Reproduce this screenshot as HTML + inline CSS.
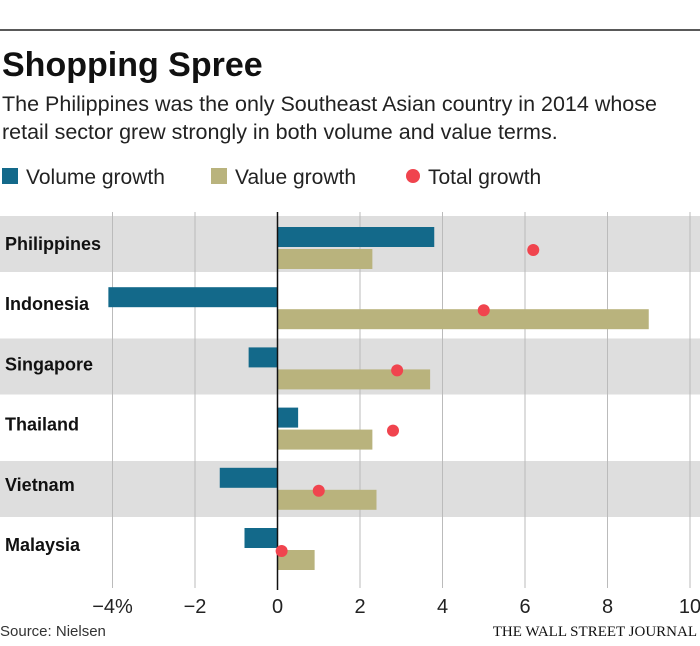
<!DOCTYPE html>
<html><head><meta charset="utf-8"><style>
body{margin:0;background:#fff;width:700px;height:641px;overflow:hidden;font-family:"Liberation Sans",sans-serif}
</style></head><body>
<svg width="700" height="641" xmlns="http://www.w3.org/2000/svg" font-family="Liberation Sans, sans-serif">
<line x1="0" y1="30" x2="700" y2="30" stroke="#222" stroke-width="1.5"/>
<text x="2" y="76" font-size="34" font-weight="bold" fill="#111">Shopping Spree</text>
<text x="2" y="111" font-size="21.5" fill="#222">The Philippines was the only Southeast Asian country in 2014 whose</text>
<text x="2" y="139" font-size="21.5" fill="#222">retail sector grew strongly in both volume and value terms.</text>
<g>
<rect x="2" y="168" width="16" height="16" fill="#13698a"/>
<text x="26" y="184" font-size="21" fill="#222">Volume growth</text>
<rect x="211" y="168" width="16" height="16" fill="#b9b37d"/>
<text x="235" y="184" font-size="21" fill="#222">Value growth</text>
<circle cx="413" cy="176" r="7" fill="#f0444e"/>
<text x="428" y="184" font-size="21" fill="#222">Total growth</text>
</g>
<g id="plot"></g>
<text x="0" y="636" font-size="15" fill="#333">Source: Nielsen</text>
<text x="697" y="636" font-size="15" font-family="Liberation Serif, serif" text-anchor="end" fill="#111">THE WALL STREET JOURNAL</text>
</svg>
<script>
const countries=["Philippines","Indonesia","Singapore","Thailand","Vietnam","Malaysia"];
const volume=[3.8,-4.1,-0.7,0.5,-1.4,-0.8];
const value=[2.3,9.0,3.7,2.3,2.4,0.9];
const total=[6.2,5.0,2.9,2.8,1.0,0.1];
const ticks=[-4,-2,0,2,4,6,8,10];
const tickLabels=["\u22124%","\u22122","0","2","4","6","8","10"];
const NS="http://www.w3.org/2000/svg";
const g=document.getElementById('plot');
const x=v=>277.5+v*41.25;
const bandTop=i=>216+i*61.25;
const barTop=i=>227+i*60.2;
function mk(t,a){const e=document.createElementNS(NS,t);for(const k in a)e.setAttribute(k,a[k]);g.appendChild(e);return e;}
countries.forEach((c,i)=>{
  if(i%2===0){const b=mk('rect',{x:0,y:bandTop(i),width:700,height:56,fill:'#dedede'});
  
  }
});
ticks.forEach(v=>{
  if(v===0)return;
  const l=mk('line',{x1:x(v),y1:212,x2:x(v),y2:588,stroke:'#bbb','stroke-width':1});
  
  
});
countries.forEach((c,i)=>{
  const t=barTop(i);
  const vb=mk('rect',{x:Math.min(x(0),x(volume[i])),y:t,width:Math.abs(x(volume[i])-x(0)),height:20,fill:'#13698a'});
  
  
  const ab=mk('rect',{x:Math.min(x(0),x(value[i])),y:t+22,width:Math.abs(x(value[i])-x(0)),height:20,fill:'#b9b37d'});
  
  
  const lb=mk('text',{x:5,y:t+23,'font-size':18,'font-weight':'bold',fill:'#111'});
  lb.textContent=c;
  
  
});
const zl=mk('line',{x1:x(0),y1:212,x2:x(0),y2:590,stroke:'#111','stroke-width':1.5});


countries.forEach((c,i)=>{
  const d=mk('circle',{cx:x(total[i]),cy:barTop(i)+23,r:6,fill:'#f0444e'});
  
  
});
ticks.forEach((v,i)=>{
  const t=mk('text',{x:x(v),y:613,'font-size':20,'text-anchor':'middle',fill:'#222'});
  t.textContent=tickLabels[i];
  
  
});
</script>
</body></html>
